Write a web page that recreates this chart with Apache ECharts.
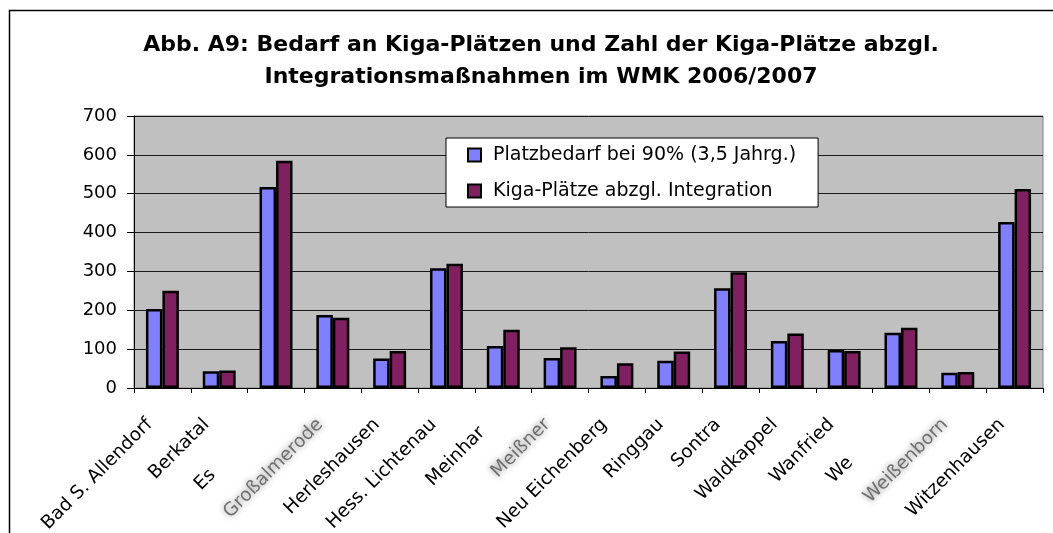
<!DOCTYPE html>
<html>
<head>
<meta charset="utf-8">
<script src="https://cdn.jsdelivr.net/npm/echarts@6/dist/echarts.min.js"></script>
<style type="text/css">
    html, body { margin: 0; padding: 0; background: #fff; }
    #chart { width: 1053px; height: 533px; }
</style>
</head>
<body>
<div id="chart"></div>
<script type="text/javascript">
var categories = ['Bad S. Allendorf', 'Berkatal', 'Eschwege', 'Großalmerode', 'Herleshausen', 'Hess. Lichtenau',
    'Meinhard', 'Meißner', 'Neu Eichenberg', 'Ringgau', 'Sontra', 'Waldkappel', 'Wanfried', 'Wehretal',
    'Weißenborn', 'Witzenhausen'];
var platzbedarf = [203, 43, 517, 188, 76, 308, 108, 77, 31, 70, 257, 121, 98, 142, 39, 427];
var kigaPlaetze = [250, 45, 585, 181, 95, 320, 150, 105, 64, 94, 298, 140, 95, 155, 41, 512];
var yTicks = [0, 100, 200, 300, 400, 500, 600, 700];

// labels that are cut off or smeared in the scan
var cutLabels = { 'Eschwege': 2, 'Meinhard': 7, 'Wehretal': 2 };
var blurLabels = ['Großalmerode', 'Meißner', 'Weißenborn'];

var myChart = echarts.init(document.getElementById('chart'));
var font = 'DejaVu Sans';

var option = {
    backgroundColor: '#fff',
    animation: false,
    title: {
        text: 'Abb. A9: Bedarf an Kiga-Plätzen und Zahl der Kiga-Plätze abzgl.\nIntegrationsmaßnahmen im WMK 2006/2007',
        left: 536,
        top: 24,
        textAlign: 'center',
        textStyle: {
            fontFamily: font,
            fontWeight: 'bold',
            fontSize: 22,
            lineHeight: 32,
            color: '#000'
        }
    },
    legend: {
        orient: 'vertical',
        left: 446,
        top: 138,
        padding: [6, 22, 5, 21],
        itemGap: 14,
        itemWidth: 13,
        itemHeight: 13,
        icon: 'rect',
        backgroundColor: '#fff',
        borderColor: '#000',
        borderWidth: 1,
        textStyle: {
            fontFamily: font,
            fontSize: 19,
            lineHeight: 22,
            color: '#000',
            padding: [0, 0, 0, 7]
        },
        data: ['Platzbedarf bei 90% (3,5 Jahrg.)', 'Kiga-Plätze abzgl. Integration']
    },
    grid: {
        left: 134,
        right: 10,
        top: 116,
        bottom: 145,
        outerBoundsMode: 'none',
        show: true,
        backgroundColor: '#C0C0C0',
        borderColor: '#808080',
        borderWidth: 1
    },
    xAxis: {
        type: 'category',
        data: categories,
        axisLine: { lineStyle: { color: '#000', width: 1 } },
        axisTick: { show: true, length: 5, lineStyle: { color: '#000' } },
        axisLabel: {
            rotate: 45,
            margin: 21,
            interval: 0,
            fontFamily: font,
            fontSize: 18.5,
            color: '#000',
            padding: [0, 18, 0, 0],
            formatter: function (name) {
                if (cutLabels[name]) {
                    var n = cutLabels[name];
                    return '{v|' + name.slice(0, n) + '}{h|' + name.slice(n) + '}';
                }
                if (blurLabels.indexOf(name) >= 0) {
                    return '{b|' + name + '}';
                }
                return '{v|' + name + '}';
            },
            rich: {
                v: { fontFamily: font, fontSize: 18.5, color: '#000' },
                h: { fontFamily: font, fontSize: 18.5, color: 'rgba(0,0,0,0)' },
                b: {
                    fontFamily: font, fontSize: 18.5, color: '#707070',
                    textShadowColor: '#808080', textShadowBlur: 6
                }
            }
        }
    },
    yAxis: {
        type: 'value',
        min: yTicks[0],
        max: yTicks[yTicks.length - 1],
        interval: 100,
        axisLine: { show: true, lineStyle: { color: '#000', width: 1 } },
        axisTick: { show: true, length: 7, lineStyle: { color: '#000' } },
        axisLabel: {
            margin: 17,
            fontFamily: font,
            fontSize: 18,
            color: '#000'
        },
        splitLine: { lineStyle: { color: '#1a1a1a', width: 1 } }
    },
    series: [
        {
            name: 'Platzbedarf bei 90% (3,5 Jahrg.)',
            type: 'bar',
            barGap: '0%',
            barCategoryGap: '42%',
            itemStyle: { color: '#8080FF', borderColor: '#000', borderWidth: 2.5 },
            data: platzbedarf
        },
        {
            name: 'Kiga-Plätze abzgl. Integration',
            type: 'bar',
            barGap: '0%',
            barCategoryGap: '42%',
            itemStyle: { color: '#802060', borderColor: '#000', borderWidth: 2.5 },
            data: kigaPlaetze
        }
    ],
    graphic: [
        {
            type: 'rect',
            left: 7,
            top: 8,
            silent: true,
            shape: { width: 1100, height: 600 },
            style: { fill: 'none', stroke: '#000', lineWidth: 1.5 }
        }
    ]
};
myChart.setOption(option);
</script>
</body>
</html>
